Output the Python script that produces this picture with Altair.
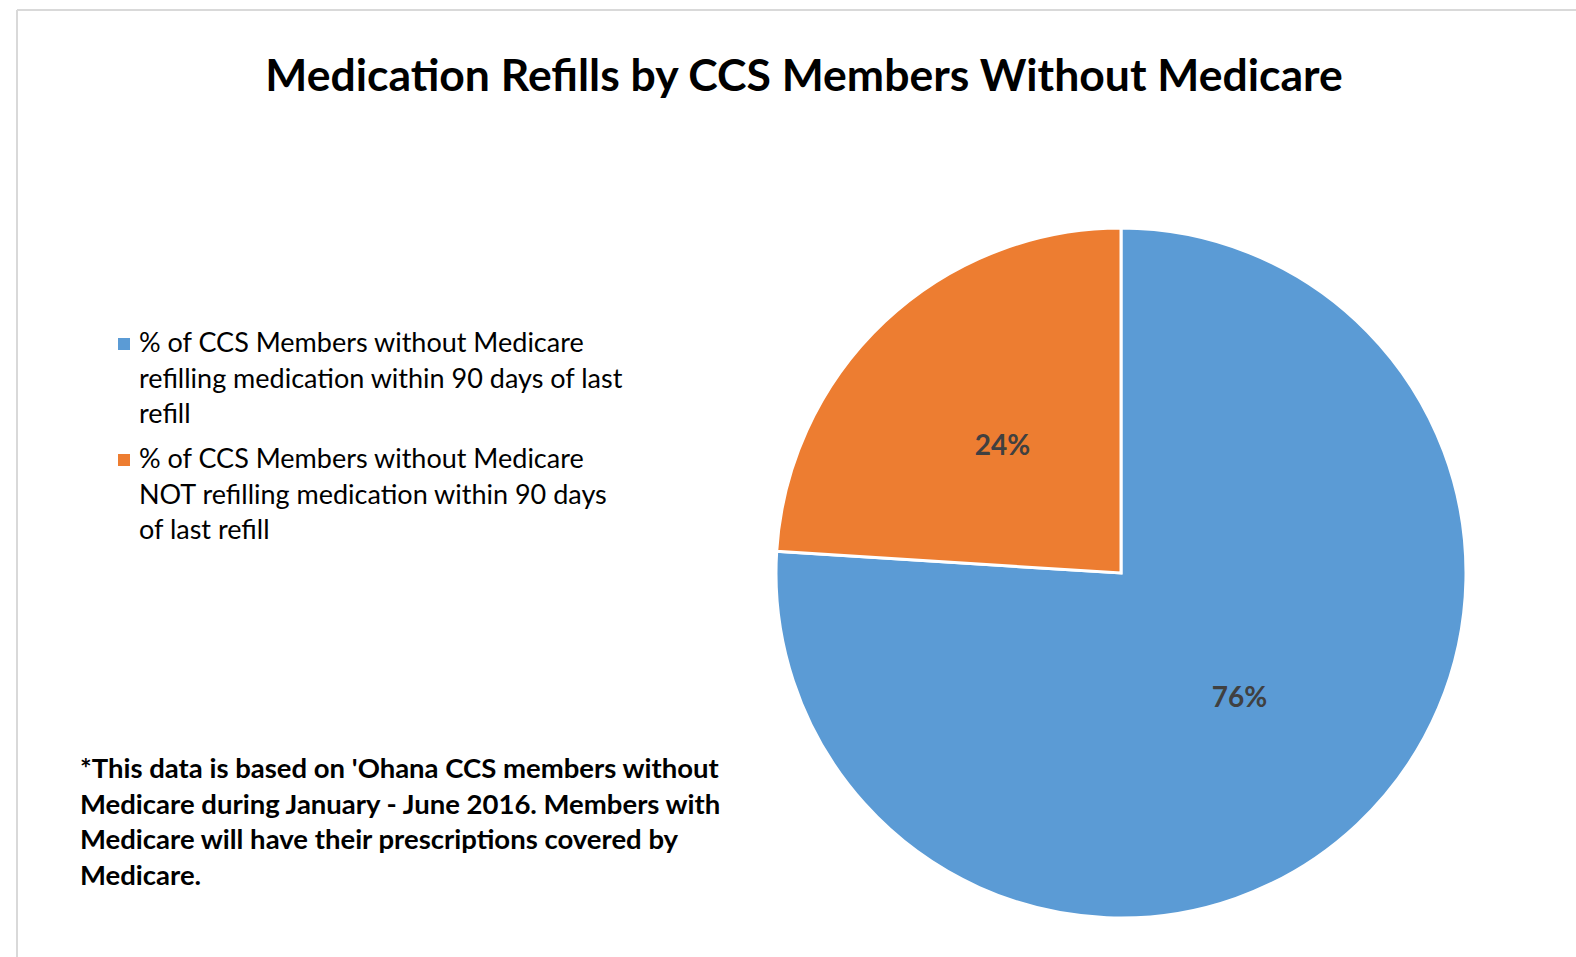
import altair as alt
import pandas as pd

# ---- data ----
categories = [
    "% of CCS Members without Medicare refilling medication within 90 days of last refill",
    "% of CCS Members without Medicare NOT refilling medication within 90 days of last refill",
]
legend_lines = [
    ["% of CCS Members without Medicare", "refilling medication within 90 days of last", "refill"],
    ["% of CCS Members without Medicare", "NOT refilling medication within 90 days", "of last refill"],
]
values = [76, 24]
value_labels = ["76%", "24%"]
colors = ["#5B9BD5", "#ED7D31"]
title_text = "Medication Refills by CCS Members Without Medicare"
footnote_lines = [
    "*This data is based on 'Ohana CCS members without",
    "Medicare during January - June 2016. Members with",
    "Medicare will have their prescriptions covered by",
    "Medicare.",
]

df = pd.DataFrame({"category": categories, "value": values,
                   "label": value_labels, "idx": [0, 1]})
leg_df = pd.DataFrame({"category": categories, "idx": [0, 1],
                       "text": ["\n".join(l) for l in legend_lines]})

FONT = "Lato"
CX, CY, R = 1121, 573, 345

color_scale = alt.Scale(domain=categories, range=colors)

base = alt.Chart(df).encode(
    theta=alt.Theta("value:Q", stack=True),
    order=alt.Order("idx:Q"),
)

pie = base.mark_arc(radius=R, stroke="white", strokeWidth=3).encode(
    x=alt.value(CX), y=alt.value(CY),
    color=alt.Color("category:N", scale=color_scale, legend=None),
)

labels = base.mark_text(radius=173, font=FONT, fontSize=28, fontWeight="bold",
                        color="#404040").encode(
    x=alt.value(CX), y=alt.value(CY), text="label:N")

# manual legend (multi-line entries)
leg_y = alt.Y("idx:Q", scale=alt.Scale(domain=[0, 1], range=[352, 468]), axis=None)
leg_sym = alt.Chart(leg_df).mark_square(size=144, opacity=1, yOffset=-8).encode(
    x=alt.value(124), y=leg_y,
    color=alt.Color("category:N", scale=color_scale, legend=None),
)
leg_txt = alt.Chart(leg_df).mark_text(
    align="left", baseline="alphabetic", font=FONT, fontSize=27,
    color="#000000", lineBreak="\n", lineHeight=35.5,
).encode(x=alt.value(139), y=leg_y, text="text:N")

foot_df = pd.DataFrame({"t": ["\n".join(footnote_lines)]})
footnote = alt.Chart(foot_df).mark_text(
    align="left", baseline="alphabetic", font=FONT, fontSize=27.5,
    fontWeight="bold", color="#000000", lineBreak="\n", lineHeight=35.5,
).encode(x=alt.value(80), y=alt.value(778), text="t:N")

border_v = alt.Chart(df).mark_rule(color="#d9d9d9", strokeWidth=2).encode(
    x=alt.value(17), y=alt.value(10), y2=alt.value(957))
border_h = alt.Chart(df).mark_rule(color="#d9d9d9", strokeWidth=2).encode(
    x=alt.value(17), x2=alt.value(1576), y=alt.value(10))

chart = alt.layer(border_v, border_h, pie, labels, leg_sym, leg_txt, footnote).properties(
    width=1576, height=957,
    autosize=alt.AutoSizeParams(type="none"),
    padding=0,
    title=alt.TitleParams(title_text, font=FONT, fontSize=44.5, fontWeight="bold",
                          color="#000000", anchor="middle", baseline="alphabetic",
                          offset=0, dy=135, dx=16),
).configure_view(stroke=None)

chart.save("out.html", embed_options={"renderer": "svg", "actions": False})
